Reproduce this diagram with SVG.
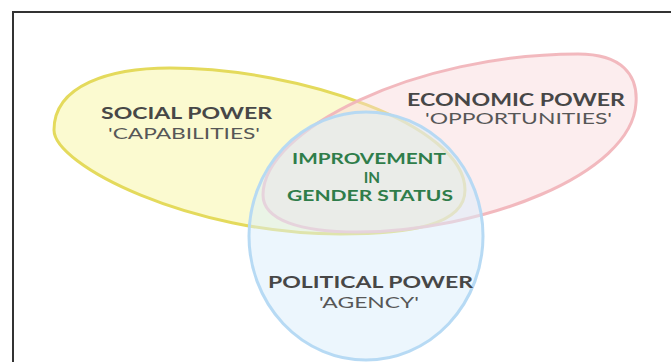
<svg xmlns="http://www.w3.org/2000/svg" width="671" height="362" viewBox="0 0 671 362">
  <style>
    .set { stroke-width: 3; }
    .head { font-family: Lato, "Open Sans", "Liberation Sans", sans-serif; font-weight: bold; font-size: 17.5px; fill: #474747; text-anchor: middle; }
    .sub { font-family: Lato, "Open Sans", "Liberation Sans", sans-serif; font-weight: normal; font-size: 15.5px; fill: #575757; text-anchor: middle; }
    .core { font-family: Lato, "Open Sans", "Liberation Sans", sans-serif; font-weight: bold; font-size: 15.3px; fill: #2f7d4a; text-anchor: middle; }
  </style>
  <rect x="0" y="0" width="671" height="362" fill="#ffffff"/>
  <path d="M13,362 L13,12 L671,12" fill="none" stroke="#333333" stroke-width="2"/>

  <g id="social">
    <path class="set" d="M54,130 C54,85 110,68 170,68 C300,68 465,125 465,190 C465,225 410,234 340,234 C190,234 54,165 54,130 Z" fill="rgb(246,243,150)" fill-opacity="0.45" stroke="#e4da5c"/>
  </g>
  <g id="economic">
    <path class="set" d="M263,195 C263,130 415,54 578,54 C622,54 638,75 636,103 C632,175 480,232 357,232 C300,232 263,220 263,195 Z" fill="rgb(248,215,218)" fill-opacity="0.45" stroke="#f1b5ba" stroke-opacity="0.95"/>
  </g>
  <g id="political">
    <ellipse class="set" cx="366" cy="236" rx="117" ry="124" fill="rgb(218,237,251)" fill-opacity="0.5" stroke="#b3d8f3" stroke-opacity="0.95"/>
  </g>

  <g id="social-label">
    <text class="head" x="186.5" y="119" textLength="171" lengthAdjust="spacingAndGlyphs">SOCIAL POWER</text>
    <text class="sub" x="184" y="139" textLength="152" lengthAdjust="spacingAndGlyphs">'CAPABILITIES'</text>
  </g>
  <g id="economic-label">
    <text class="head" x="516" y="105.5" textLength="218" lengthAdjust="spacingAndGlyphs" style="font-size:16.5px">ECONOMIC POWER</text>
    <text class="sub" x="518.5" y="123.5" textLength="187" lengthAdjust="spacingAndGlyphs" style="font-size:14.5px">'OPPORTUNITIES'</text>
  </g>
  <g id="political-label">
    <text class="head" x="370.5" y="288" textLength="205" lengthAdjust="spacingAndGlyphs">POLITICAL POWER</text>
    <text class="sub" x="369" y="308" textLength="100" lengthAdjust="spacingAndGlyphs">'AGENCY'</text>
  </g>
  <g id="core">
    <text class="core" x="369" y="164" textLength="154" lengthAdjust="spacingAndGlyphs">IMPROVEMENT</text>
    <text class="core" x="372" y="182.5">IN</text>
    <text class="core" x="370" y="201" textLength="166" lengthAdjust="spacingAndGlyphs">GENDER STATUS</text>
  </g>
</svg>
